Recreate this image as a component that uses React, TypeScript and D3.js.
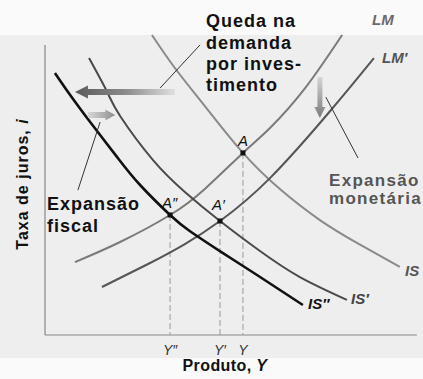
import React from "react";
import * as d3 from "d3";

// Curves (abstract units: product on x, interest rate on y)
const IS_X = [28.9, 35.1, 43.2, 53.5, 63.8, 74.3, 84.3, 95.9];
const IS_Y = [100, 89, 76.3, 60.7, 48.3, 38.3, 30.7, 22.7];
const IS1_X = [11.9, 16.8, 20.3, 29.2, 37.8, 47.3, 58.1, 68.9, 81.6];
const IS1_Y = [92.3, 81, 73, 58.3, 47.7, 38, 28, 19.3, 11.7];
const IS2_X = [2.7, 6.8, 12.2, 19.5, 25.7, 33.8, 39.2, 48.1, 57.3, 69.7];
const IS2_Y = [87.3, 80, 71, 59.3, 50, 40, 34.6, 27.3, 20, 10];
const LM_X = [8.1, 20.3, 33.8, 43.2, 53.5, 60.8, 70.3, 80.3];
const LM_Y = [24.3, 31, 40, 48.7, 60.7, 69, 82.3, 100];
const LM1_X = [15.4, 28.4, 37.8, 47.3, 60.8, 77.3, 88.9];
const LM1_Y = [16, 24, 30.3, 38, 52.3, 75, 92.3];

// Equilibria
const EQ_NAMES = ["A", "A′", "A″"];
const EQ_X = [53.5, 47.3, 33.8];
const EQ_Y = [60.7, 38, 40];
const TICK_LABELS = ["Y", "Y′", "Y″"];

// Annotation arrows [x1, y1, x2, y2]
const ARROW_INVEST = [35.1, 81, 8.1, 81];
const ARROW_FISCAL = [11.6, 73.3, 19.0, 73.3];
const ARROW_MONEY = [74.3, 86, 74.3, 72.3];
// Pointer lines
const POINTERS = [
  [41.9, 96.7, 31.1, 82.3],
  [14.9, 71, 8.9, 48.3],
  [75.9, 79.3, 84.6, 59],
];

const W = 423;
const H = 379;
const FONT = "'Liberation Sans', Arial, sans-serif";

export default function App() {
  const x = d3.scaleLinear().domain([0, 100]).range([45, 415]);
  const y = d3.scaleLinear().domain([0, 100]).range([335, 35]);
  const line = d3
    .line<[number, number]>()
    .x((d) => x(d[0]))
    .y((d) => y(d[1]))
    .curve(d3.curveNatural);
  const pts = (xs: number[], ys: number[]) =>
    xs.map((v, i) => [v, ys[i]] as [number, number]);

  const arrow = (a: number[], shaft: number, headL: number, headW: number) => {
    const x1 = x(a[0]), y1 = y(a[1]), x2 = x(a[2]), y2 = y(a[3]);
    const dx = x2 - x1, dy = y2 - y1;
    const len = Math.hypot(dx, dy);
    const ux = dx / len, uy = dy / len;
    const px = -uy, py = ux;
    const bx = x2 - ux * headL, by = y2 - uy * headL;
    const p = [
      [x1 + px * shaft / 2, y1 + py * shaft / 2],
      [bx + px * shaft / 2, by + py * shaft / 2],
      [bx + px * headW / 2, by + py * headW / 2],
      [x2, y2],
      [bx - px * headW / 2, by - py * headW / 2],
      [bx - px * shaft / 2, by - py * shaft / 2],
      [x1 - px * shaft / 2, y1 - py * shaft / 2],
    ];
    return "M" + p.map((q) => q.join(",")).join("L") + "Z";
  };

  const boldText = {
    fontFamily: FONT,
    fontWeight: 700,
  } as const;

  return (
    <svg width={W} height={H} style={{ display: "block", position: "absolute", left: 0, top: 0 }}>
      <defs>
        <linearGradient id="gInv" x1="0" x2="1" y1="0" y2="0">
          <stop offset="0" stopColor="#5a5a5a" />
          <stop offset="0.5" stopColor="#8a8a8a" />
          <stop offset="1" stopColor="#e0e0e0" />
        </linearGradient>
        <linearGradient id="gFis" x1="0" x2="1" y1="0" y2="0">
          <stop offset="0" stopColor="#d8d8d8" />
          <stop offset="1" stopColor="#8e8e8e" />
        </linearGradient>
        <linearGradient id="gMon" x1="0" x2="0" y1="0" y2="1">
          <stop offset="0" stopColor="#d5d5d5" />
          <stop offset="1" stopColor="#7a7a7a" />
        </linearGradient>
      </defs>
      <rect x={0} y={0} width={W} height={H} fill="#fafafa" />
      <rect x={0} y={35} width={W} height={323} fill="#eeeeee" />

      {/* axes */}
      <line x1={x(0)} x2={x(0)} y1={y(0)} y2={y(96.7)} stroke="#888" strokeWidth={1.2} />
      <line x1={x(0)} x2={x(100.5)} y1={y(0)} y2={y(0)} stroke="#888" strokeWidth={1.2} />

      {/* dashed guides */}
      {EQ_X.map((v, i) => (
        <line key={"d" + i} x1={x(v)} x2={x(v)} y1={y(EQ_Y[i])} y2={y(0)} stroke="#999" strokeWidth={1} strokeDasharray="6,3" />
      ))}

      {/* curves */}
      <path d={line(pts(IS_X, IS_Y)) || ""} fill="none" stroke="#8a8a8a" strokeWidth={2} />
      <path d={line(pts(LM_X, LM_Y)) || ""} fill="none" stroke="#7a7a7a" strokeWidth={2} />
      <path d={line(pts(LM1_X, LM1_Y)) || ""} fill="none" stroke="#555" strokeWidth={2} />
      <path d={line(pts(IS1_X, IS1_Y)) || ""} fill="none" stroke="#4a4a4a" strokeWidth={2} />
      <path d={line(pts(IS2_X, IS2_Y)) || ""} fill="none" stroke="#111" strokeWidth={2.6} />

      {/* pointer lines */}
      {POINTERS.map((p, i) => (
        <line key={"p" + i} x1={x(p[0])} y1={y(p[1])} x2={x(p[2])} y2={y(p[3])} stroke="#333" strokeWidth={1} />
      ))}

      {/* arrows */}
      <path d={arrow(ARROW_INVEST, 6, 13, 13)} fill="url(#gInv)" />
      <path d={arrow(ARROW_FISCAL, 6, 10, 11)} fill="url(#gFis)" />
      <path d={arrow(ARROW_MONEY, 5, 11, 11)} fill="url(#gMon)" />

      {/* equilibrium points */}
      {EQ_X.map((v, i) => (
        <rect key={"e" + i} x={x(v) - 2.5} y={y(EQ_Y[i]) - 2.5} width={5} height={5} fill="#111" />
      ))}
      <text x={x(EQ_X[0]) - 5} y={y(EQ_Y[0]) - 7} fontFamily={FONT} fontStyle="italic" fontSize={15} fill="#111">{EQ_NAMES[0]}</text>
      <text x={x(EQ_X[1]) - 8} y={y(EQ_Y[1]) - 11} fontFamily={FONT} fontStyle="italic" fontSize={15} fill="#111">{EQ_NAMES[1]}</text>
      <text x={x(EQ_X[2]) - 8} y={y(EQ_Y[2]) - 7} fontFamily={FONT} fontStyle="italic" fontSize={15} fill="#111">{EQ_NAMES[2]}</text>

      {/* tick labels */}
      {EQ_X.map((v, i) => (
        <text key={"t" + i} x={x(v)} y={355} textAnchor="middle" fontFamily={FONT} fontStyle="italic" fontSize={14} fill="#333">{TICK_LABELS[i]}</text>
      ))}

      {/* curve labels */}
      <text x={372} y={25} {...boldText} fontStyle="italic" fontSize={15} fill="#6a6a6a">LM</text>
      <text x={382} y={63} {...boldText} fontStyle="italic" fontSize={15} fill="#555">LM′</text>
      <text x={405} y={276} {...boldText} fontStyle="italic" fontSize={15} fill="#555">IS</text>
      <text x={351} y={304} {...boldText} fontStyle="italic" fontSize={15} fill="#444">IS′</text>
      <text x={308} y={309} {...boldText} fontStyle="italic" fontSize={15} fill="#111">IS″</text>

      {/* annotation texts */}
      <g {...boldText} fontSize={18} letterSpacing={1} fill="#111">
        <text x={206} y={27}>Queda na</text>
        <text x={206} y={49}>demanda</text>
        <text x={206} y={70}>por inves-</text>
        <text x={206} y={91}>timento</text>
        <text x={47} y={210}>Expansão</text>
        <text x={47} y={232}>fiscal</text>
      </g>
      <g {...boldText} fontSize={17} letterSpacing={1.3} fill="#555">
        <text x={329} y={186}>Expansão</text>
        <text x={329} y={204}>monetária</text>
      </g>

      {/* axis titles */}
      <text x={225} y={371} textAnchor="middle" {...boldText} fontSize={16} letterSpacing={0.4} fill="#111">
        Produto, <tspan fontStyle="italic">Y</tspan>
      </text>
      <text transform="translate(28,184) rotate(-90)" textAnchor="middle" {...boldText} fontSize={16} letterSpacing={1} fill="#111">
        Taxa de juros, <tspan fontStyle="italic">i</tspan>
      </text>
    </svg>
  );
}
